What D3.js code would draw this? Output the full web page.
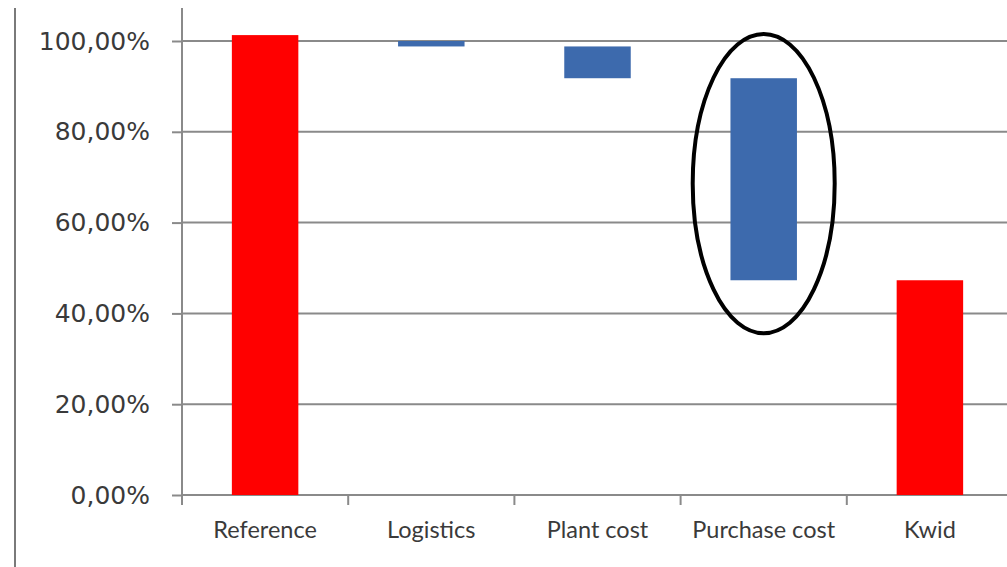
<!DOCTYPE html>
<html>
<head>
<meta charset="utf-8">
<script src="https://cdn.jsdelivr.net/npm/d3@7/dist/d3.min.js"></script>
<style>
  html, body { margin: 0; padding: 0; background: #fff; }
  svg { display: block; }
</style>
</head>
<body>
<svg id="chart" width="1007" height="567"></svg>
<script>
// Cost waterfall: reference cost broken down to the Kwid cost (share of reference, %)
const categories = ["Reference", "Logistics", "Plant cost", "Purchase cost", "Kwid"];
const barLow  = [0,     98.8, 91.8, 47.3, 0];
const barHigh = [101.3, 100,  98.8, 91.8, 47.3];
const barKind = ["total", "delta", "delta", "delta", "total"];
const yTicks = [0, 20, 40, 60, 80, 100];
// highlighted step, with the vertical span of its outline in axis units
const highlight = { category: "Purchase cost", low: 35.2, high: 102 };

const W = 1007, H = 567;
const plot = { left: 182, right: 1013, top: 41, bottom: 495 };
const gridColor = "#8a8a8a";
const textColor = "#3a3a3a";

const svg = d3.select("#chart");

const y = d3.scaleLinear().domain([0, 100]).range([plot.bottom, plot.top]);
const x = d3.scaleBand().domain(categories)
  .range([plot.left, plot.right]).paddingInner(0.6).paddingOuter(0.3);

const fmt = d3.formatLocale({ decimal: ",", thousands: ".", grouping: [3], currency: ["", "€"] }).format(".2f");

// outer frame line on the left
svg.append("line")
  .attr("x1", 15).attr("x2", 15).attr("y1", 8).attr("y2", H)
  .attr("stroke", "#7a7a7a").attr("stroke-width", 2);

// horizontal gridlines
svg.append("g").selectAll("line").data(yTicks).join("line")
  .attr("x1", plot.left).attr("x2", W)
  .attr("y1", d => y(d)).attr("y2", d => y(d))
  .attr("stroke", gridColor).attr("stroke-width", 2);

// y axis
const yAxis = svg.append("g")
  .attr("transform", `translate(${plot.left},0)`)
  .call(d3.axisLeft(y).tickValues(yTicks).tickSize(10).tickPadding(22)
    .tickFormat(d => fmt(d) + "%"));
yAxis.select(".domain").remove();
yAxis.selectAll(".tick line").attr("stroke", gridColor).attr("stroke-width", 2);
yAxis.selectAll(".tick text")
  .attr("fill", textColor)
  .style("font-family", "'DejaVu Sans', Verdana, sans-serif")
  .style("font-size", "25px");

// vertical axis line
svg.append("line")
  .attr("x1", plot.left).attr("x2", plot.left)
  .attr("y1", 8).attr("y2", plot.bottom + 10)
  .attr("stroke", gridColor).attr("stroke-width", 2);

// category boundary ticks on the x axis
const boundaries = categories.map(c => x(c) + x.bandwidth() / 2 - x.step() / 2);
svg.append("g").selectAll("line").data(boundaries).join("line")
  .attr("x1", d => d).attr("x2", d => d)
  .attr("y1", plot.bottom).attr("y2", plot.bottom + 10)
  .attr("stroke", gridColor).attr("stroke-width", 2);

// bars
svg.append("g").selectAll("rect").data(categories).join("rect")
  .attr("x", c => x(c))
  .attr("width", x.bandwidth())
  .attr("y", (c, i) => y(barHigh[i]))
  .attr("height", (c, i) => y(barLow[i]) - y(barHigh[i]))
  .attr("fill", (c, i) => barKind[i] === "total" ? "#ff0000" : "#3d6aad");

// category labels
svg.append("g")
  .style("font-family", "Lato, 'Open Sans', sans-serif")
  .style("font-size", "23.5px")
  .attr("fill", textColor)
  .attr("text-anchor", "middle")
  .selectAll("text").data(categories).join("text")
  .attr("x", c => x(c) + x.bandwidth() / 2)
  .attr("y", 538)
  .text(c => c);

// outline around the highlighted step
const hx = x(highlight.category) + x.bandwidth() / 2;
svg.append("ellipse")
  .attr("cx", hx)
  .attr("cy", (y(highlight.low) + y(highlight.high)) / 2)
  .attr("rx", 71)
  .attr("ry", (y(highlight.low) - y(highlight.high)) / 2 - 2)
  .attr("fill", "none")
  .attr("stroke", "#000")
  .attr("stroke-width", 4);
</script>
</body>
</html>
